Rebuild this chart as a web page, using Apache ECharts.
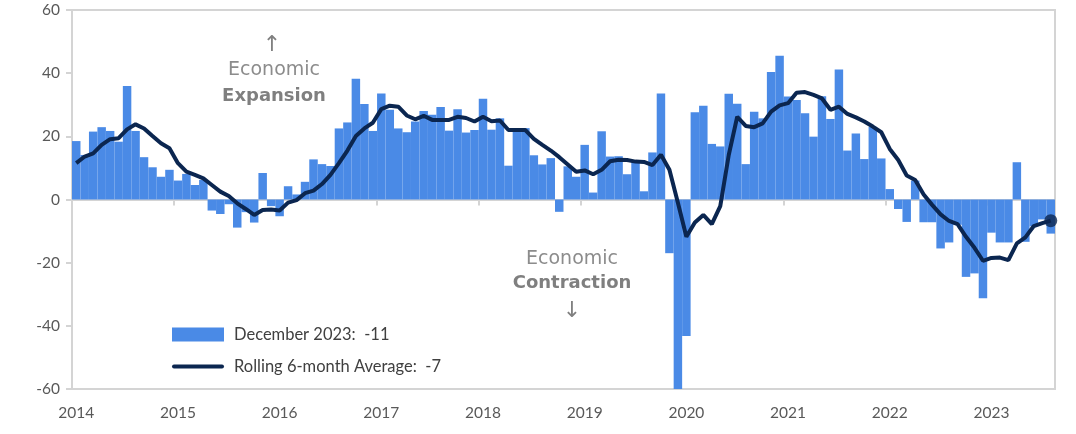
<!DOCTYPE html>
<html>
<head>
<meta charset="utf-8">
<script src="https://cdn.jsdelivr.net/npm/echarts@6/dist/echarts.min.js"></script>
<style>
  html, body { margin: 0; padding: 0; background: #fff; }
  #chart { width: 1076px; height: 434px; }
</style>
</head>
<body>
<div id="chart"></div>
<script>
// 年份标签
var years = ['2014', '2015', '2016', '2017', '2018', '2019', '2020', '2021', '2022', '2023'];

// 月度指数
var monthly = [
  18.5, 14.1, 21.5, 22.9, 21.7, 18.3, 35.9, 21.7, 13.4, 10.2, 7.2, 9.4,
  6.0, 8.1, 4.6, 6.2, -3.5, -4.6, -1.5, -8.9, -4.0, -7.3, 8.4, -2.1,
  -5.3, 4.2, 1.6, 5.6, 12.7, 11.2, 10.6, 22.5, 24.4, 38.2, 30.2, 21.7,
  33.6, 28.4, 22.5, 21.3, 24.7, 28.0, 26.8, 29.3, 21.8, 28.6, 21.2, 22.0,
  31.9, 22.1, 25.7, 10.7, 22.6, 22.6, 14.0, 11.1, 13.1, -3.9, 10.5, 7.2,
  17.3, 2.2, 21.6, 13.6, 13.7, 8.0, 12.2, 2.6, 14.9, 33.6, -17.0, -60,
  -43.2, 27.6, 29.7, 17.6, 16.8, 33.5, 30.3, 11.2, 27.8, 25.7, 40.4, 45.5,
  32.6, 31.5, 27.3, 19.9, 32.7, 25.5, 41.2, 15.5, 20.9, 12.8, 23.0, 13.0,
  3.3, -3.0, -7.1, 6.0, -7.2, -7.2, -15.5, -13.6, -8.0, -24.5, -23.4, -31.3,
  -10.5, -13.6, -13.6, 11.8, -13.4, -8.5, -6.3, -10.8
];

// 6个月滚动平均
var rolling = [
  11.5, 13.6, 14.6, 17.3, 19.1, 19.4, 22.2, 23.8, 22.5, 20.1, 17.8, 16.2,
  11.5, 8.8, 7.8, 6.7, 4.6, 2.5, 1.1, -1.2, -3.0, -4.9, -3.3, -3.2,
  -3.5, -1.0, -0.2, 2.0, 2.8, 4.9, 7.8, 11.5, 15.5, 20.1, 22.5, 24.3,
  28.6, 29.7, 29.4, 26.6, 25.4, 26.5, 25.2, 25.2, 25.2, 26.2, 25.8, 24.7,
  26.2, 24.8, 25.0, 22.0, 22.0, 22.0, 19.2, 17.3, 15.5, 13.4, 11.1, 8.8,
  9.2, 8.0, 9.4, 12.1, 12.6, 12.5, 12.0, 11.9, 10.9, 14.2, 9.4, -1.0,
  -11.8, -7.3, -4.9, -7.8, -2.1, 14.1, 26.2, 23.3, 22.9, 24.1, 27.8, 29.8,
  30.5, 33.8, 34.0, 33.1, 32.0, 28.4, 29.4, 27.1, 26.0, 24.7, 23.1, 21.3,
  16.0, 12.5, 7.6, 6.2, 1.6, -1.7, -4.7, -6.8, -7.8, -11.8, -15.3, -19.4,
  -18.5, -18.4, -19.2, -13.9, -12.0, -8.4, -7.5, -6.7
];

var barName = 'December 2023:  -11';
var lineName = 'Rolling 6-month Average:  -7';

var categories = monthly.map(function (v, i) {
  return years[Math.floor(i / 12)] + '-' + (i % 12 + 1);
});

var lastIdx = rolling.length - 1;
var navy = '#0B2650';

var chart = echarts.init(document.getElementById('chart'));

var option = {
  animation: false,
  grid: {
    left: 72, right: 21, top: 10, bottom: 45,
    show: true, borderColor: '#d4d4d4', borderWidth: 2
  },
  legend: {
    orient: 'vertical',
    left: 167, top: 321,
    itemWidth: 52, itemHeight: 14, itemGap: 15,
    textStyle: { fontFamily: 'Lato', fontSize: 16.5, color: '#404040', padding: [0, 0, 0, 5] },
    data: [
      { name: barName, icon: 'rect' },
      { name: lineName, icon: 'path://M2,0 L50,0 A2,2 0 0 1 50,4 L2,4 A2,2 0 0 1 2,0 Z', itemStyle: { color: navy } }
    ]
  },
  xAxis: [
    {
      type: 'category',
      data: categories,
      axisLine: { onZero: true, lineStyle: { color: '#d4d4d4', width: 2 } },
      axisTick: { show: true, interval: 11, length: 6, lineStyle: { color: '#d4d4d4', width: 2 } },
      axisLabel: { show: false }
    },
    {
      type: 'category',
      data: categories,
      position: 'bottom',
      axisLine: { show: false },
      axisTick: { show: false },
      axisLabel: {
        interval: 11,
        margin: 16,
        fontFamily: 'Lato', fontSize: 15.5, color: '#595959',
        formatter: function (v) { return v.split('-')[0]; }
      }
    }
  ],
  yAxis: {
    type: 'value',
    min: -60, max: 60, interval: 20,
    axisLine: { show: true, lineStyle: { color: '#d4d4d4', width: 2 } },
    axisTick: { show: true, length: 6, lineStyle: { color: '#d4d4d4', width: 2 } },
    splitLine: { show: false },
    axisLabel: { fontFamily: 'Lato', fontSize: 15.5, color: '#595959', margin: 12 }
  },
  series: [
    {
      name: barName,
      type: 'bar',
      data: monthly,
      barCategoryGap: '0%',
      itemStyle: { color: '#4A8AE6' }
    },
    {
      name: lineName,
      type: 'line',
      data: rolling,
      symbol: 'none',
      lineStyle: { color: navy, width: 4 },
      itemStyle: { color: navy },
      z: 5
    },
    {
      name: 'last',
      type: 'scatter',
      data: [[lastIdx, rolling[lastIdx]]],
      symbolSize: 13,
      itemStyle: { color: navy },
      z: 6
    }
  ],
  graphic: [
    { type: 'text', x: 272, y: 45, style: { text: '↑', font: '22px "DejaVu Sans"', fill: '#808080', align: 'center', verticalAlign: 'middle' } },
    { type: 'text', x: 274, y: 70, style: { text: 'Economic', font: '19px "DejaVu Sans"', fill: '#8c8c8c', align: 'center', verticalAlign: 'middle' } },
    { type: 'text', x: 274, y: 96, style: { text: 'Expansion', font: 'bold 18px "DejaVu Sans"', fill: '#7f7f7f', align: 'center', verticalAlign: 'middle' } },
    { type: 'text', x: 572, y: 259, style: { text: 'Economic', font: '19px "DejaVu Sans"', fill: '#8c8c8c', align: 'center', verticalAlign: 'middle' } },
    { type: 'text', x: 572, y: 283, style: { text: 'Contraction', font: 'bold 18px "DejaVu Sans"', fill: '#7f7f7f', align: 'center', verticalAlign: 'middle' } },
    { type: 'text', x: 572, y: 311, style: { text: '↓', font: '22px "DejaVu Sans"', fill: '#808080', align: 'center', verticalAlign: 'middle' } }
  ]
};

chart.setOption(option);
</script>
</body>
</html>
